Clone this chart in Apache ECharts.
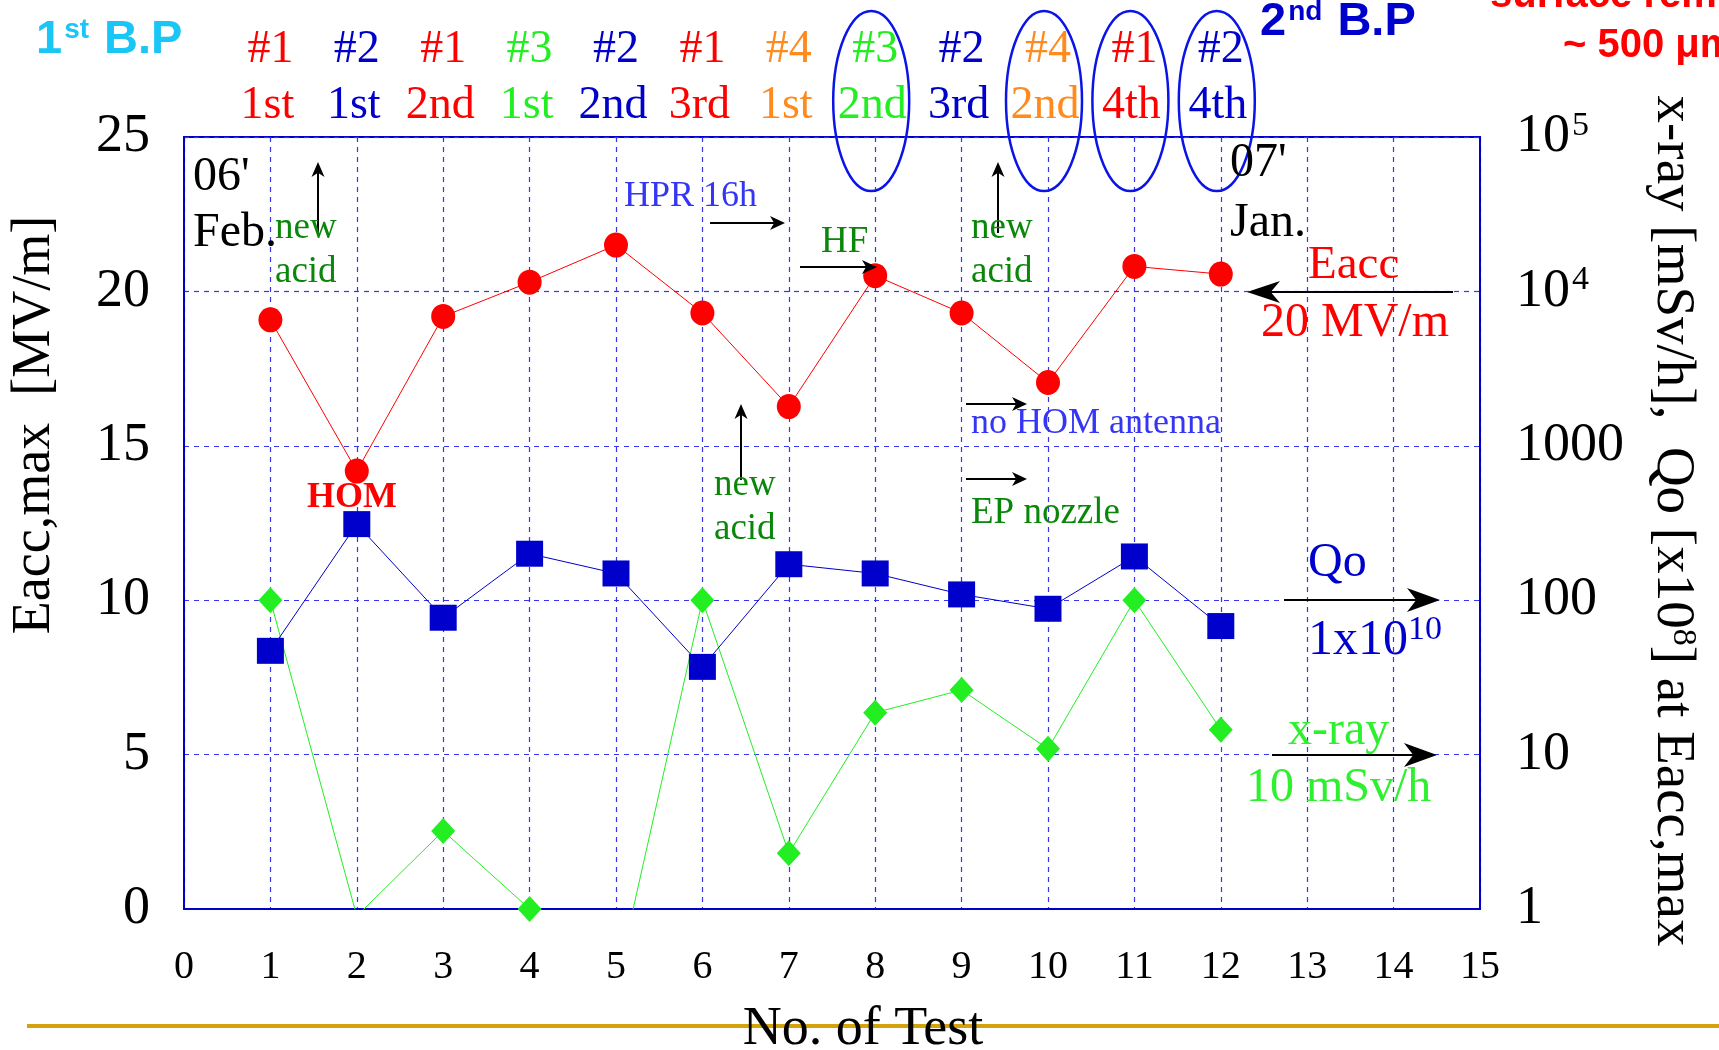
<!DOCTYPE html>
<html>
<head>
<meta charset="utf-8">
<script src="https://cdn.jsdelivr.net/npm/echarts@6/dist/echarts.min.js"></script>
<style>
  html, body { margin: 0; padding: 0; background: #ffffff; }
  #chart { width: 1719px; height: 1050px; }
</style>
</head>
<body>
<div id="chart"></div>
<script>
// Test sequence (x axis)
const testNo = [1, 2, 3, 4, 5, 6, 7, 8, 9, 10, 11, 12];
// Maximum accelerating gradient reached in each test [MV/m]
const eaccMax = [19.08, 14.18, 19.19, 20.30, 21.50, 19.30, 16.27, 20.51, 19.30, 17.05, 20.81, 20.56];
// Qo at Eacc,max [x1e8]
const qoAtMax = [47, 311, 77, 200, 149, 37, 171, 149, 109, 88, 192, 68];
// X-ray dose at Eacc,max [mSv/h]
const xrayAtMax = [100, 0.9, 3.2, 1, 0.32, 100, 2.3, 18.7, 26.2, 10.9, 100, 14.5];

// Cavity id and test round written above each test
const cavityIds = ['#1', '#2', '#1', '#3', '#2', '#1', '#4', '#3', '#2', '#4', '#1', '#2'];
const testRounds = ['1st', '1st', '2nd', '1st', '2nd', '3rd', '1st', '2nd', '3rd', '2nd', '4th', '4th'];
const cavityColors = { '#1': '#ff0000', '#2': '#0000cc', '#3': '#22ee22', '#4': '#ff8a1e' };
// Tests circled as the second baking period
const circledTests = [8, 10, 11, 12];

// Axis ranges and tick steps
const xRange = [0, 15];
const leftRange = [0, 25];
const leftStep = 5;
const rightRange = [1, 100000];

const SERIF = '"Liberation Serif", "Times New Roman", serif';
const SANS = '"Liberation Sans", Arial, sans-serif';
const GRID_BLUE = '#3535ee';
const FRAME_BLUE = '#0000cc';

const chart = echarts.init(document.getElementById('chart'), null, { renderer: 'canvas' });

const option = {
  animation: false,
  backgroundColor: '#ffffff',
  grid: {
    left: 184, right: 239, top: 137, bottom: 141,
    show: true, borderColor: FRAME_BLUE, borderWidth: 2, backgroundColor: 'transparent'
  },
  xAxis: {
    type: 'value', min: xRange[0], max: xRange[1], interval: 1,
    axisLine: { show: true, lineStyle: { color: FRAME_BLUE, width: 2 } },
    axisTick: { show: false },
    axisLabel: { color: '#000', fontFamily: SERIF, fontSize: 40, margin: 38 },
    splitLine: { show: true, lineStyle: { color: GRID_BLUE, width: 1.2, type: [5, 5] } }
  },
  yAxis: [
    {
      type: 'value', min: leftRange[0], max: leftRange[1], interval: leftStep,
      axisLine: { show: true, lineStyle: { color: FRAME_BLUE, width: 2 } },
      axisTick: { show: false },
      axisLabel: { color: '#000', fontFamily: SERIF, fontSize: 54, margin: 34 },
      splitLine: { show: true, lineStyle: { color: GRID_BLUE, width: 1.2, type: [5, 5] } }
    },
    {
      type: 'log', logBase: 10, min: rightRange[0], max: rightRange[1], splitNumber: 5,
      position: 'right',
      axisLine: { show: true, lineStyle: { color: FRAME_BLUE, width: 2 } },
      axisTick: { show: false },
      splitLine: { show: false },
      axisLabel: {
        color: '#000', fontFamily: SERIF, fontSize: 54, margin: 36,
        formatter: function (v) {
          const e = Math.round(Math.log10(v));
          return e >= 4 ? '10{sup|' + e + '}' : String(Math.round(v));
        },
        rich: {
          sup: { fontSize: 34, fontFamily: SERIF, color: '#000', verticalAlign: 'top', padding: [0, 0, 22, 2] }
        }
      }
    }
  ],
  series: [
    {
      name: 'x-ray', type: 'line', yAxisIndex: 1,
      data: testNo.map((t, i) => [t, xrayAtMax[i]]),
      symbol: 'diamond', symbolSize: [24, 26],
      lineStyle: { color: '#22ee22', width: 1 },
      itemStyle: { color: '#22ee22' },
      clip: true, z: 3
    },
    {
      name: 'Qo', type: 'line', yAxisIndex: 1,
      data: testNo.map((t, i) => [t, qoAtMax[i]]),
      symbol: 'rect', symbolSize: [27, 26],
      lineStyle: { color: '#0000cc', width: 1 },
      itemStyle: { color: '#0000cc' },
      clip: true, z: 4
    },
    {
      name: 'Eacc', type: 'line', yAxisIndex: 0,
      data: testNo.map((t, i) => [t, eaccMax[i]]),
      symbol: 'circle', symbolSize: [24, 25],
      lineStyle: { color: '#ff0000', width: 1 },
      itemStyle: { color: '#ff0000' },
      clip: true, z: 5
    }
  ]
};

chart.setOption(option);

// ---- annotations ----
function txt(x, y, text, size, color, extra) {
  return Object.assign({
    type: 'text', x: x, y: y, z: 50,
    style: Object.assign({
      text: text, fill: color, font: size + 'px ' + SERIF,
      align: 'left', verticalAlign: 'middle'
    }, (extra && extra.style) || {})
  }, (extra && extra.el) || {});
}

function arrow(x1, y1, x2, y2, head, half, width) {
  const a = Math.atan2(y2 - y1, x2 - x1);
  const c = Math.cos(a), s = Math.sin(a);
  const bx = x2 - head * c, by = y2 - head * s;
  const nx = x2 - head * 0.72 * c, ny = y2 - head * 0.72 * s;
  return [
    { type: 'line', z: 40, shape: { x1: x1, y1: y1, x2: nx, y2: ny }, style: { stroke: '#000', lineWidth: width || 2 } },
    {
      type: 'polygon', z: 41,
      shape: { points: [[x2, y2], [bx - s * half, by + c * half], [nx, ny], [bx + s * half, by - c * half]] },
      style: { fill: '#000' }
    }
  ];
}

const xPx = n => chart.convertToPixel({ xAxisIndex: 0 }, n);
const graphics = [];

// separator rule under the plot
graphics.push({ type: 'rect', z: 1, shape: { x: 27, y: 1024, width: 1692, height: 4 }, style: { fill: '#d4a20c' } });

// axis titles
graphics.push(txt(863, 1030, 'No. of Test', 54, '#000', { style: { align: 'center' } }));
graphics.push({
  type: 'text', x: 35, y: 425, rotation: Math.PI / 2, z: 50,
  style: { text: 'Eacc,max  [MV/m]', fill: '#000', font: '54px ' + SERIF, align: 'center', verticalAlign: 'middle' }
});
graphics.push({
  type: 'text', x: 1672, y: 521, rotation: -Math.PI / 2, z: 50,
  style: {
    text: '{n|x-ray [mSv/h],  Qo [x10}{s|8}{n|] at Eacc,max}',
    align: 'center', verticalAlign: 'middle',
    rich: {
      n: { fontSize: 55, fontFamily: SERIF, fill: '#000' },
      s: { fontSize: 34, fontFamily: SERIF, fill: '#000', verticalAlign: 'top', padding: [0, 0, 18, 0] }
    }
  }
});

// cavity / round labels above the plot
testNo.forEach((t, i) => {
  const x = xPx(t);
  const col = cavityColors[cavityIds[i]];
  graphics.push(txt(x, 50, cavityIds[i], 46, col, { style: { align: 'center' } }));
  graphics.push(txt(x - 3, 106, testRounds[i], 46, col, { style: { align: 'center' } }));
});
circledTests.forEach(t => {
  graphics.push({
    type: 'ellipse', z: 45,
    shape: { cx: xPx(t) - 4, cy: 101, rx: 38, ry: 90 },
    style: { fill: 'none', stroke: '#0a14e6', lineWidth: 2.5 }
  });
});

// baking period headers
graphics.push({
  type: 'text', x: 36, y: 40, z: 50,
  style: {
    text: '{b|1}{s|st}{b| B.P}', verticalAlign: 'middle',
    rich: {
      b: { fontSize: 47, fontFamily: SANS, fontWeight: 'bold', fill: '#19c6f5' },
      s: { fontSize: 28, fontFamily: SANS, fontWeight: 'bold', fill: '#19c6f5', verticalAlign: 'top', padding: [0, 2, 14, 2] }
    }
  }
});
graphics.push({
  type: 'text', x: 1260, y: 22, z: 50,
  style: {
    text: '{b|2}{s|nd}{b| B.P}', verticalAlign: 'middle',
    rich: {
      b: { fontSize: 47, fontFamily: SANS, fontWeight: 'bold', fill: '#0000cc' },
      s: { fontSize: 28, fontFamily: SANS, fontWeight: 'bold', fill: '#0000cc', verticalAlign: 'top', padding: [0, 2, 14, 2] }
    }
  }
});
graphics.push({
  type: 'text', x: 1490, y: -4, z: 50,
  style: { text: 'surface removal', fill: '#ff0000', font: 'bold 40px ' + SANS, verticalAlign: 'middle' }
});
graphics.push({
  type: 'text', x: 1563, y: 46, z: 50,
  style: { text: '~ 500 \u03bcm', fill: '#ff0000', font: 'bold 40px ' + SANS, verticalAlign: 'middle' }
});

// dates
graphics.push(txt(193, 177, "06'", 48, '#000'));
graphics.push(txt(193, 233, 'Feb.', 48, '#000'));
graphics.push(txt(1230, 163, "07'", 48, '#000'));
graphics.push(txt(1230, 223, 'Jan.', 48, '#000'));

// process notes
const GREEN_NOTE = '#0a870a';
graphics.push(txt(275, 228, 'new', 37, GREEN_NOTE));
graphics.push(txt(275, 272, 'acid', 37, GREEN_NOTE));
graphics.push(...arrow(318, 235, 318, 162, 15, 6.5, 2));

graphics.push(txt(624, 197, 'HPR 16h', 36, '#3535f5'));
graphics.push(...arrow(710, 223, 785, 223, 15, 7, 2));
graphics.push(txt(821, 242, 'HF', 37, GREEN_NOTE));
graphics.push(...arrow(800, 267, 877, 267, 15, 7, 2));

graphics.push(txt(971, 228, 'new', 37, GREEN_NOTE));
graphics.push(txt(971, 272, 'acid', 37, GREEN_NOTE));
graphics.push(...arrow(998, 233, 998, 162, 15, 6.5, 2));

graphics.push(txt(714, 485, 'new', 37, GREEN_NOTE));
graphics.push(txt(714, 529, 'acid', 37, GREEN_NOTE));
graphics.push(...arrow(741, 480, 741, 404, 15, 6.5, 2));

graphics.push(...arrow(966, 404, 1027, 404, 15, 7, 2));
graphics.push(txt(971, 424, 'no HOM antenna', 36, '#3535f5'));
graphics.push(...arrow(966, 479, 1027, 479, 15, 7, 2));
graphics.push(txt(971, 513, 'EP nozzle', 37, GREEN_NOTE));

graphics.push(txt(352, 498, 'HOM', 36, '#ff0000', { style: { align: 'center', font: 'bold 36px ' + SERIF } }));

// right-side legend notes
graphics.push(txt(1308, 266, 'Eacc', 47, '#ff0000'));
graphics.push(txt(1261, 323, '20 MV/m', 48, '#ff0000'));
graphics.push(...arrow(1453, 292, 1247, 292, 33, 11, 2));

graphics.push(txt(1308, 563, 'Qo', 48, '#0000cc'));
graphics.push(...arrow(1284, 600, 1440, 600, 33, 12, 2));
graphics.push({
  type: 'text', x: 1308, y: 641, z: 50,
  style: {
    text: '{n|1x10}{s|10}', verticalAlign: 'middle',
    rich: {
      n: { fontSize: 50, fontFamily: SERIF, fill: '#0000cc' },
      s: { fontSize: 34, fontFamily: SERIF, fill: '#0000cc', verticalAlign: 'top', padding: [0, 0, 22, 0] }
    }
  }
});

graphics.push(txt(1288, 731, 'x-ray', 48, '#2ef02e'));
graphics.push(...arrow(1272, 755, 1437, 755, 33, 12, 2));
graphics.push(txt(1246, 788, '10 mSv/h', 48, '#2ef02e'));

chart.setOption({ graphic: graphics });
</script>
</body>
</html>
